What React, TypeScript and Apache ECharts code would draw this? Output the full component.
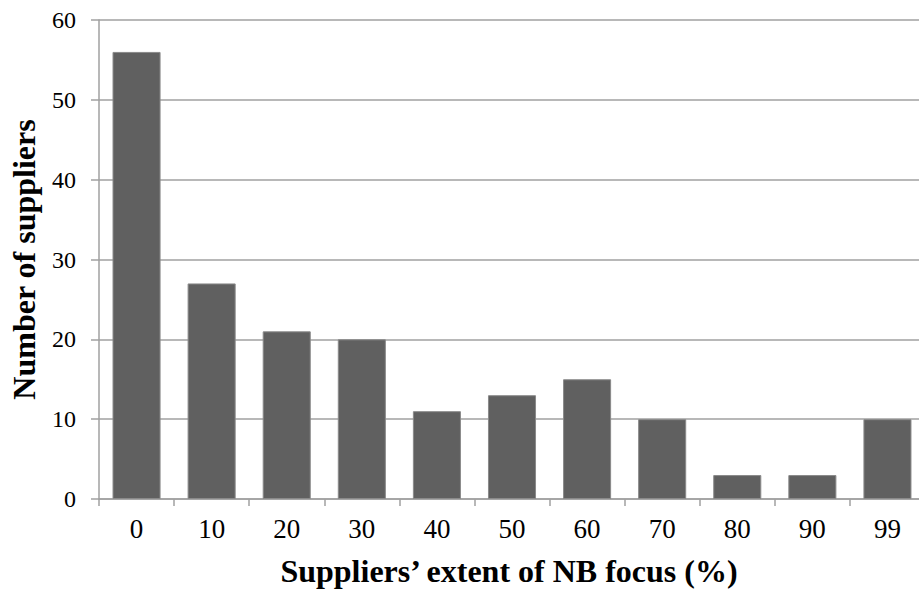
import React, { useEffect, useRef } from "react";
import * as echarts from "echarts";

const categories = ["0", "10", "20", "30", "40", "50", "60", "70", "80", "90", "99"];
const supplierCounts = [56, 27, 21, 20, 11, 13, 15, 10, 3, 3, 10];

export default function App() {
  const ref = useRef<HTMLDivElement>(null);
  useEffect(() => {
    if (!ref.current) return;
    const chart = echarts.init(ref.current, null, { renderer: "svg" });
    const font = "'Liberation Serif', 'Times New Roman', serif";
    chart.setOption({
      animation: false,
      backgroundColor: "#ffffff",
      grid: { left: 98, right: 5, top: 20, bottom: 91, containLabel: false },
      xAxis: {
        type: "category",
        data: categories,
        name: "Suppliers\u2019 extent of NB focus (%)",
        nameLocation: "middle",
        nameGap: 56,
        nameTextStyle: { fontFamily: font, fontSize: 32, fontWeight: "bold", color: "#000", padding: [0, 6, 0, 0] },
        axisLine: { lineStyle: { color: "#a0a0a0", width: 1.5 } },
        axisTick: { show: true, length: 7, alignWithLabel: false, lineStyle: { color: "#a0a0a0", width: 1.5 } },
        axisLabel: { fontFamily: font, fontSize: 27, color: "#000", margin: 16 },
      },
      yAxis: {
        type: "value",
        min: 0,
        max: 60,
        interval: 10,
        name: "Number of suppliers",
        nameLocation: "middle",
        nameGap: 59,
        nameTextStyle: { fontFamily: font, fontSize: 32, fontWeight: "bold", color: "#000" },
        axisLine: { show: true, lineStyle: { color: "#a0a0a0", width: 1.5 } },
        axisTick: { show: true, length: 8, lineStyle: { color: "#a0a0a0", width: 1.5 } },
        splitLine: { lineStyle: { color: "#a0a0a0", width: 1.5 } },
        axisLabel: { fontFamily: font, fontSize: 24, color: "#000", margin: 23 },
      },
      series: [
        {
          type: "bar",
          data: supplierCounts,
          barWidth: "64%",
          itemStyle: { color: "#606060", borderColor: "#8a8a8a", borderWidth: 1 },
        },
      ],
    });
    return () => chart.dispose();
  }, []);
  return (
    <div style={{ position: "fixed", left: 0, top: 0, width: 919, height: 592, overflow: "hidden", background: "#fff" }}>
      <div ref={ref} style={{ width: 930, height: 592 }} />
    </div>
  );
}
